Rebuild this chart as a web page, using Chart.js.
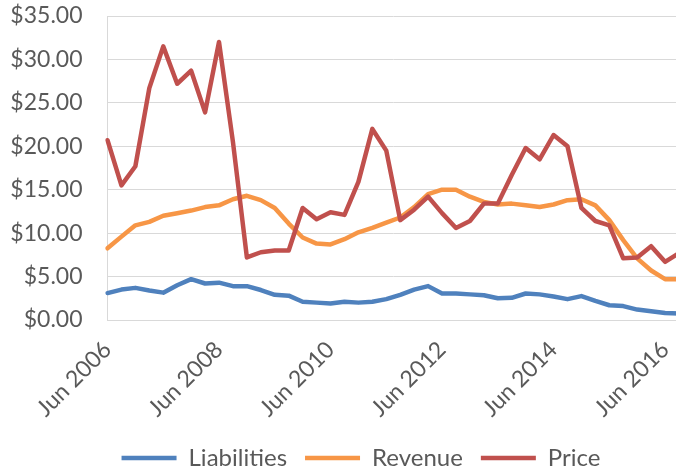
<!DOCTYPE html>
<html>
<head>
<meta charset="utf-8">
<script src="https://cdn.jsdelivr.net/npm/chart.js@4/dist/chart.umd.min.js"></script>
<style>
  html, body { margin: 0; padding: 0; background: #fff; overflow: hidden; }
  #wrap { width: 722px; height: 473px; }
</style>
</head>
<body>
<div id="wrap"><canvas id="chart" width="722" height="473"></canvas></div>
<script>
var quarters = [
  "Jun 2006", "Sep 2006", "Dec 2006", "Mar 2007", "Jun 2007", "Sep 2007", "Dec 2007", "Mar 2008",
  "Jun 2008", "Sep 2008", "Dec 2008", "Mar 2009", "Jun 2009", "Sep 2009", "Dec 2009", "Mar 2010",
  "Jun 2010", "Sep 2010", "Dec 2010", "Mar 2011", "Jun 2011", "Sep 2011", "Dec 2011", "Mar 2012",
  "Jun 2012", "Sep 2012", "Dec 2012", "Mar 2013", "Jun 2013", "Sep 2013", "Dec 2013", "Mar 2014",
  "Jun 2014", "Sep 2014", "Dec 2014", "Mar 2015", "Jun 2015", "Sep 2015", "Dec 2015", "Mar 2016",
  "Jun 2016", "Sep 2016"
];

var liabilities = [
  3.1, 3.5, 3.7, 3.4, 3.15, 4.0, 4.7, 4.2,
  4.3, 3.9, 3.9, 3.45, 2.9, 2.8, 2.1, 2.0,
  1.9, 2.1, 2.0, 2.1, 2.4, 2.9, 3.5, 3.9,
  3.05, 3.05, 2.95, 2.85, 2.5, 2.55, 3.05, 2.95,
  2.7, 2.4, 2.75, 2.2, 1.7, 1.6, 1.2, 1.0,
  0.8, 0.75
];

var revenue = [
  8.25, 9.6, 10.9, 11.3, 12.0, 12.3, 12.6, 13.0,
  13.2, 13.9, 14.3, 13.8, 12.9, 11.1, 9.5, 8.8,
  8.7, 9.3, 10.1, 10.6, 11.2, 11.8, 13.0, 14.5,
  15.0, 15.0, 14.2, 13.6, 13.3, 13.4, 13.2, 13.0,
  13.3, 13.8, 13.9, 13.2, 11.5, 9.2, 7.1, 5.7,
  4.7, 4.7
];

var price = [
  20.7, 15.5, 17.7, 26.7, 31.5, 27.2, 28.7, 23.9,
  32.0, 20.5, 7.2, 7.8, 8.0, 8.0, 12.9, 11.6,
  12.4, 12.1, 15.9, 22.0, 19.5, 11.5, 12.7, 14.2,
  12.3, 10.6, 11.4, 13.4, 13.4, 16.7, 19.8, 18.5,
  21.3, 20.0, 12.9, 11.4, 10.9, 7.1, 7.2, 8.5,
  6.7, 7.7
];

var seriesNames = ["Liabilities", "Revenue", "Price"];
var seriesColors = ["#4f81bd", "#f79646", "#c0504d"];
var yTicks = [0, 5, 10, 15, 20, 25, 30, 35];

var textColor = "#595959";
var gridColor = "#d9d9d9";
var fontFamily = "Lato, 'Open Sans', sans-serif";

function lineSet(i, values, order) {
  return {
    label: seriesNames[i],
    data: values,
    borderColor: seriesColors[i],
    backgroundColor: seriesColors[i],
    borderWidth: 4.5,
    borderCapStyle: "round",
    borderJoinStyle: "round",
    pointRadius: 0,
    pointHoverRadius: 0,
    tension: 0,
    fill: false,
    order: order
  };
}

new Chart("chart", {
  type: "line",
  data: {
    labels: quarters,
    datasets: [
      lineSet(0, liabilities, 2),
      lineSet(1, revenue, 1),
      lineSet(2, price, 0)
    ]
  },
  options: {
    responsive: false,
    animation: false,
    devicePixelRatio: 1,
    layout: {
      padding: { left: 0, right: 0, top: 16, bottom: -7 }
    },
    plugins: {
      tooltip: { enabled: false },
      legend: {
        display: true,
        position: "bottom",
        labels: {
          usePointStyle: true,
          pointStyle: "line",
          pointStyleWidth: 55,
          color: textColor,
          padding: 18,
          font: { family: fontFamily, size: 24 },
          sort: function (a, b) { return a.datasetIndex - b.datasetIndex; }
        }
      }
    },
    scales: {
      x: {
        offset: false,
        grid: {
          drawTicks: false,
          color: function (ctx) { return ctx.index % 8 === 0 ? gridColor : "rgba(0,0,0,0)"; },
          lineWidth: 1
        },
        border: { display: true, color: gridColor, width: 1 },
        ticks: {
          autoSkip: false,
          maxRotation: 45,
          minRotation: 45,
          padding: 16,
          color: textColor,
          font: { family: fontFamily, size: 23 },
          callback: function (val, idx) { return idx % 8 === 0 ? quarters[idx] : null; }
        },
        afterFit: function (axis) {
          axis.paddingLeft = 0;
          axis.paddingRight = 43;
          axis.height = 108;
        }
      },
      y: {
        min: yTicks[0],
        max: yTicks[yTicks.length - 1],
        grid: { drawTicks: false, color: gridColor, lineWidth: 1 },
        border: { display: false },
        afterBuildTicks: function (axis) {
          axis.ticks = yTicks.map(function (v) { return { value: v }; });
        },
        ticks: {
          padding: 25,
          color: textColor,
          font: { family: fontFamily, size: 23 },
          callback: function (v) { return "$" + v.toFixed(2); }
        },
        afterFit: function (axis) {
          axis.paddingTop = 0;
          axis.paddingBottom = 0;
          axis.width = 107.5;
        }
      }
    }
  }
});
</script>
</body>
</html>
